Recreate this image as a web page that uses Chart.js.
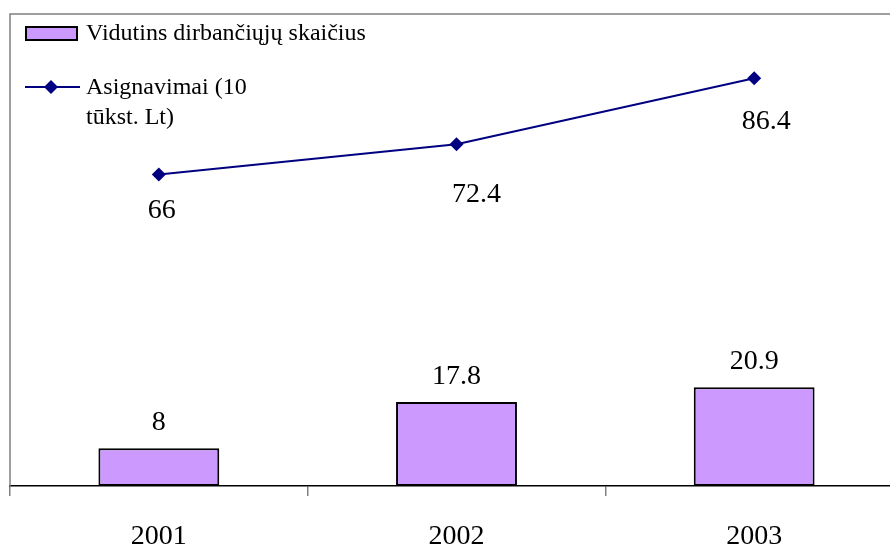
<!DOCTYPE html>
<html>
<head>
<meta charset="utf-8">
<script src="https://cdn.jsdelivr.net/npm/chart.js@4"></script>
<style>
    html, body { margin: 0; padding: 0; background: #fff; overflow: hidden; }
    #wrap { width: 910px; height: 547px; }
</style>
</head>
<body>
<div id="wrap"><canvas id="chart" width="910" height="547"></canvas></div>
<script>
// Data
var years = ['2001', '2002', '2003'];
var workers = [8, 17.8, 20.9];          // Vidutins dirbančiųjų skaičius
var funding = [66, 72.4, 86.4];         // Asignavimai (10 tūkst. Lt)
var barLegend = 'Vidutins dirbančiųjų skaičius';
var lineLegend = ['Asignavimai (10', 'tūkst. Lt)'];

var SERIF = "'Liberation Serif', 'Times New Roman', serif";
var BAR_FILL = '#CC99FF';
var NAVY = '#000080';

// frame, legend and value labels
var extrasPlugin = {
    id: 'extras',
    afterDraw: function(chart) {
        var ctx = chart.ctx;
        var area = chart.chartArea;
        ctx.save();

        // gray frame: top + left
        ctx.strokeStyle = '#808080';
        ctx.lineWidth = 1.5;
        ctx.beginPath();
        ctx.moveTo(area.left, area.bottom);
        ctx.lineTo(area.left, area.top);
        ctx.lineTo(chart.width, area.top);
        ctx.stroke();

        // value labels
        ctx.fillStyle = '#000';
        ctx.font = '28px ' + SERIF;
        ctx.textAlign = 'center';
        ctx.textBaseline = 'alphabetic';
        var barMeta = chart.getDatasetMeta(0);
        barMeta.data.forEach(function(el, i) {
            ctx.fillText(String(workers[i]), el.x, el.y - 18);
        });
        var nudgeX = [3, 20, 12];
        var nudgeY = [44, 58, 51];
        var lineMeta = chart.getDatasetMeta(1);
        lineMeta.data.forEach(function(el, i) {
            ctx.fillText(String(funding[i]), el.x + nudgeX[i], el.y + nudgeY[i]);
        });

        // legend
        ctx.textAlign = 'left';
        ctx.font = '24px ' + SERIF;
        ctx.fillStyle = BAR_FILL;
        ctx.fillRect(26, 27, 51, 13);
        ctx.strokeStyle = '#000';
        ctx.lineWidth = 2;
        ctx.strokeRect(26, 27, 51, 13);
        ctx.fillStyle = '#000';
        ctx.fillText(barLegend, 86, 40);

        ctx.strokeStyle = NAVY;
        ctx.lineWidth = 2;
        ctx.beginPath();
        ctx.moveTo(25, 87);
        ctx.lineTo(80, 87);
        ctx.stroke();
        ctx.fillStyle = NAVY;
        ctx.beginPath();
        ctx.moveTo(51, 80);
        ctx.lineTo(58, 87);
        ctx.lineTo(51, 94);
        ctx.lineTo(44, 87);
        ctx.closePath();
        ctx.fill();
        ctx.fillStyle = '#000';
        ctx.fillText(lineLegend[0], 86, 94);
        ctx.fillText(lineLegend[1], 86, 124);

        ctx.restore();
    }
};

new Chart(document.getElementById('chart'), {
    type: 'bar',
    data: {
        labels: years,
        datasets: [{
            type: 'bar',
            label: barLegend,
            data: workers,
            backgroundColor: BAR_FILL,
            borderColor: '#000',
            borderWidth: 2,
            borderSkipped: false,
            barPercentage: 1,
            categoryPercentage: 0.406,
            order: 2
        }, {
            type: 'line',
            label: lineLegend.join(' '),
            data: funding,
            borderColor: NAVY,
            borderWidth: 2,
            pointStyle: 'rectRot',
            pointRadius: 7,
            pointBackgroundColor: NAVY,
            pointBorderColor: NAVY,
            pointBorderWidth: 0,
            tension: 0,
            order: 1
        }]
    },
    options: {
        responsive: false,
        animation: false,
        layout: { padding: { left: 10, top: 14, right: 0, bottom: 0 } },
        plugins: {
            legend: { display: false },
            tooltip: { enabled: false }
        },
        scales: {
            x: {
                grid: {
                    offset: true,
                    drawOnChartArea: false,
                    drawTicks: true,
                    tickLength: 10,
                    color: '#808080',
                    lineWidth: 1.5
                },
                border: { display: true, color: '#000', width: 1.5 },
                ticks: {
                    color: '#000',
                    padding: 24,
                    font: { family: SERIF, size: 28 }
                },
                afterFit: function(scale) { scale.height = 61; }
            },
            y: {
                display: false,
                min: 0,
                max: 100
            }
        }
    },
    plugins: [extrasPlugin]
});
</script>
</body>
</html>
